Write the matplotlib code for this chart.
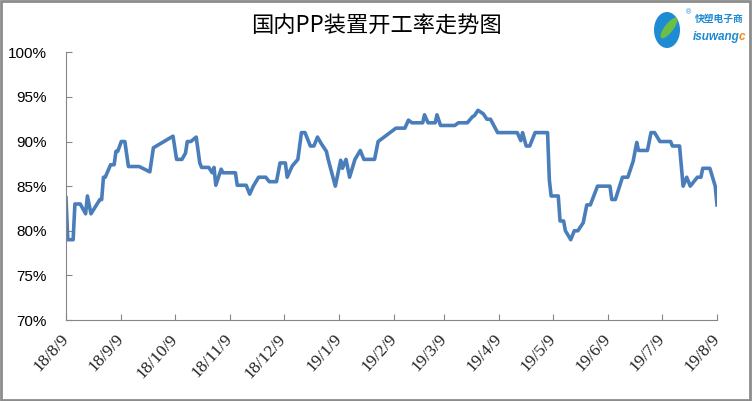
import numpy as np
import pandas as pd
import matplotlib
matplotlib.use('Agg')
import matplotlib.pyplot as plt
from matplotlib.patches import Ellipse, Rectangle

plt.rcParams['font.family'] = ['Liberation Sans', 'Noto Sans CJK SC', 'DejaVu Sans']

title = '国内PP装置开工率走势图'

dates = ['2018-08-09', '2018-08-10', '2018-08-13', '2018-08-14', '2018-08-17', '2018-08-20',
         '2018-08-21', '2018-08-23', '2018-08-28', '2018-08-29', '2018-08-30', '2018-08-31',
         '2018-09-03', '2018-09-05', '2018-09-06', '2018-09-07', '2018-09-09', '2018-09-11',
         '2018-09-13', '2018-09-19', '2018-09-25', '2018-09-27', '2018-10-08', '2018-10-10',
         '2018-10-13', '2018-10-15', '2018-10-16', '2018-10-18', '2018-10-21', '2018-10-23',
         '2018-10-24', '2018-10-28', '2018-10-30', '2018-10-31', '2018-11-01', '2018-11-04',
         '2018-11-05', '2018-11-12', '2018-11-13', '2018-11-18', '2018-11-20', '2018-11-22',
         '2018-11-25', '2018-11-29', '2018-12-01', '2018-12-05', '2018-12-07', '2018-12-10',
         '2018-12-11', '2018-12-13', '2018-12-14', '2018-12-17', '2018-12-19', '2018-12-21',
         '2018-12-24', '2018-12-26', '2018-12-28', '2018-12-30', '2019-01-02', '2019-01-03',
         '2019-01-07', '2019-01-10', '2019-01-11', '2019-01-13', '2019-01-15', '2019-01-18',
         '2019-01-21', '2019-01-23', '2019-01-29', '2019-01-31', '2019-02-10', '2019-02-15',
         '2019-02-17', '2019-02-19', '2019-02-25', '2019-02-26', '2019-02-28', '2019-03-04',
         '2019-03-05', '2019-03-07', '2019-03-15', '2019-03-17', '2019-03-22', '2019-03-25',
         '2019-03-26', '2019-03-28', '2019-03-31', '2019-04-02', '2019-04-04', '2019-04-08',
         '2019-04-19', '2019-04-21', '2019-04-22', '2019-04-24', '2019-04-26', '2019-04-29',
         '2019-05-06', '2019-05-07', '2019-05-08', '2019-05-12', '2019-05-13', '2019-05-15',
         '2019-05-16', '2019-05-19', '2019-05-21', '2019-05-23', '2019-05-26', '2019-05-28',
         '2019-05-30', '2019-06-03', '2019-06-10', '2019-06-11', '2019-06-13', '2019-06-17',
         '2019-06-20', '2019-06-23', '2019-06-25', '2019-06-26', '2019-07-01', '2019-07-03',
         '2019-07-05', '2019-07-08', '2019-07-14', '2019-07-15', '2019-07-19', '2019-07-21',
         '2019-07-23', '2019-07-25', '2019-07-29', '2019-07-31', '2019-08-01', '2019-08-05',
         '2019-08-08', '2019-08-09']

rates = [83.7, 79.0, 79.0, 83.0, 83.0, 81.9, 83.9, 81.9, 83.5, 83.5, 86.0, 86.0,
         87.4, 87.4, 88.9, 88.9, 90.0, 90.0, 87.2, 87.2, 86.6, 89.3, 90.6, 88.0,
         88.0, 88.7, 90.0, 90.0, 90.5, 87.6, 87.1, 87.1, 86.5, 87.1, 85.1, 86.9,
         86.5, 86.5, 85.1, 85.1, 84.1, 85.0, 86.0, 86.0, 85.5, 85.5, 87.6, 87.6,
         86.0, 86.9, 87.3, 88.0, 91.0, 91.0, 89.5, 89.5, 90.5, 89.8, 88.9, 88.0,
         85.0, 87.9, 87.0, 88.0, 86.0, 88.0, 89.0, 88.0, 88.0, 90.0, 91.5, 91.5,
         92.4, 92.1, 92.1, 93.0, 92.1, 92.1, 93.0, 91.8, 91.8, 92.1, 92.1, 92.8,
         92.9, 93.5, 93.1, 92.5, 92.5, 91.0, 91.0, 90.1, 91.0, 89.5, 89.5, 91.0,
         91.0, 85.7, 83.9, 83.9, 81.1, 81.1, 80.0, 79.0, 80.0, 80.0, 80.9, 82.9,
         82.9, 85.0, 85.0, 83.5, 83.5, 86.0, 86.0, 87.8, 89.9, 89.0, 89.0, 91.0,
         91.0, 90.0, 90.0, 89.5, 89.5, 85.0, 86.0, 85.0, 86.0, 86.0, 87.0, 87.0,
         85.0, 82.9]

tick_dates = ['2018-08-09', '2018-09-09', '2018-10-09', '2018-11-09', '2018-12-09',
              '2019-01-09', '2019-02-09', '2019-03-09', '2019-04-09', '2019-05-09',
              '2019-06-09', '2019-07-09', '2019-08-09']
tick_labels = ['18/8/9', '18/9/9', '18/10/9', '18/11/9', '18/12/9', '19/1/9', '19/2/9',
               '19/3/9', '19/4/9', '19/5/9', '19/6/9', '19/7/9', '19/8/9']
y_ticks = [70, 75, 80, 85, 90, 95, 100]

x = pd.to_datetime(dates)
xt = pd.to_datetime(tick_dates)

fig = plt.figure(figsize=(7.52, 4.01), dpi=100)
ax = fig.add_axes([66 / 752, 1 - 320 / 401, 651 / 752, (320 - 52.3) / 401])

ax.plot(x, rates, color='#4A7EBB', linewidth=2.6, solid_joinstyle='round')

ax.set_xlim(xt[0], xt[-1])
ax.set_ylim(70, 100)
ax.set_yticks(y_ticks)
ax.set_yticklabels([f'{v}%' for v in y_ticks], fontsize=11, color='black')
ax.set_xticks(xt)
ax.set_xticklabels(tick_labels, rotation=48, ha='right', va='center', rotation_mode='anchor',
                   family='Liberation Serif', fontsize=12.5, color='#222222')

for s in ['top', 'right']:
    ax.spines[s].set_visible(False)
for s in ['left', 'bottom']:
    ax.spines[s].set_color('#868686')
    ax.spines[s].set_linewidth(0.8)
ax.tick_params(axis='both', direction='in', length=4, width=0.8, color='#868686')
ax.tick_params(axis='y', pad=14)
ax.tick_params(axis='x', pad=12)

fig.text(376 / 752, 1 - 26 / 401, title, ha='center', va='center', fontsize=16,
         family=['Noto Sans CJK SC', 'DejaVu Sans'], fontweight='normal')

# logo in top right corner
fig.patches.append(Ellipse((667 / 752, 1 - 30 / 401), 26 / 752, 36 / 401, transform=fig.transFigure,
                           facecolor='#1E8BD2', edgecolor='none'))
fig.patches.append(Ellipse((669 / 752, 1 - 28 / 401), 10 / 752, 22 / 401, angle=-20,
                           transform=fig.transFigure, facecolor='#6DBE45', edgecolor='none'))
fig.text(686 / 752, 1 - 13 / 401, '®', fontsize=5, color='#1E8BD2', ha='left', va='center')
fig.text(695 / 752, 1 - 19 / 401, '快塑电子商', fontsize=7, color='#1E8BD2', ha='left', va='center',
         family=['Noto Sans CJK SC', 'DejaVu Sans'], fontweight='bold')
brand = fig.text(693 / 752, 1 - 37 / 401, 'isuwang', fontsize=8.5, color='#1E8BD2', ha='left',
                 va='center', style='italic', fontweight='bold')
ax.annotate('c', xy=(1, 0.5), xycoords=brand, xytext=(-0.5, 0), textcoords='offset points',
            fontsize=8.5, color='#F08A1C', ha='left', va='center', style='italic',
            fontweight='bold', annotation_clip=False)

fig.patches.append(Rectangle((0.001, 0.003), 0.996, 0.995, transform=fig.transFigure,
                             fill=False, edgecolor='#8C8C8C', linewidth=2))

fig.savefig('out.png', dpi=100)
